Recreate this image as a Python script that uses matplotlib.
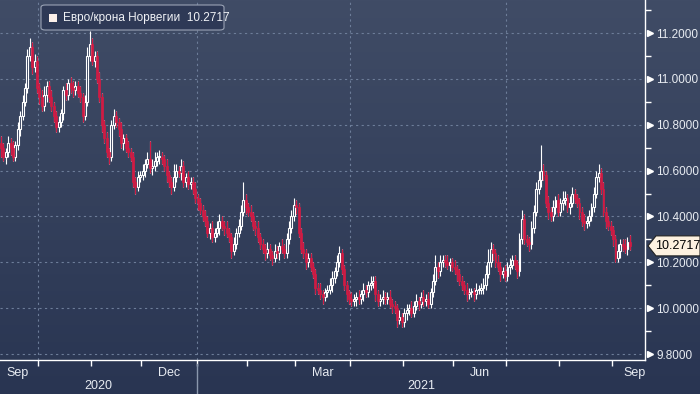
import numpy as np
import pandas as pd
import matplotlib
matplotlib.use("Agg")
import matplotlib.pyplot as plt
import matplotlib.transforms as mtransforms
from matplotlib.patches import FancyBboxPatch, Polygon, Rectangle

plt.rcParams["font.family"] = ["Liberation Sans", "DejaVu Sans"]

# === Data (EUR/NOK daily closes) ===
closes = [
    10.70, 10.66, 10.68, 10.72, 10.70, 10.66, 10.71, 10.78, 10.84, 10.90,
    10.96, 11.10, 11.14, 11.05, 11.08, 10.96, 10.92, 10.88, 10.93, 10.97,
    10.92, 10.88, 10.84, 10.79, 10.81, 10.85, 10.95, 10.93, 10.98, 10.96,
    10.95, 10.97, 10.94, 10.92, 10.84, 10.90, 11.10, 11.15, 11.08, 11.10,
    11.00, 10.92, 10.80, 10.74, 10.68, 10.66, 10.80, 10.84, 10.81, 10.78,
    10.72, 10.74, 10.70, 10.68, 10.66, 10.55, 10.53, 10.57, 10.58, 10.60,
    10.63, 10.65, 10.61, 10.62, 10.64, 10.66, 10.66, 10.65, 10.62, 10.58,
    10.55, 10.53, 10.57, 10.60, 10.59, 10.62, 10.55, 10.57, 10.54, 10.55,
    10.52, 10.48, 10.46, 10.43, 10.40, 10.38, 10.33, 10.35, 10.31, 10.33,
    10.35, 10.38, 10.36, 10.35, 10.33, 10.31, 10.25, 10.28, 10.33, 10.36,
    10.42, 10.47, 10.44, 10.42, 10.40, 10.36, 10.35, 10.31, 10.28, 10.26,
    10.24, 10.26, 10.23, 10.22, 10.25, 10.24, 10.27, 10.26, 10.24, 10.30,
    10.35, 10.40, 10.45, 10.44, 10.33, 10.26, 10.24, 10.20, 10.22, 10.18,
    10.15, 10.09, 10.08, 10.06, 10.05, 10.07, 10.08, 10.10, 10.13, 10.16,
    10.20, 10.24, 10.17, 10.10, 10.06, 10.04, 10.03, 10.04, 10.05, 10.04,
    10.06, 10.08, 10.07, 10.10, 10.11, 10.12, 10.06, 10.03, 10.04, 10.05,
    10.04, 10.05, 10.02, 10.01, 10.00, 9.95, 9.96, 9.94, 9.98, 9.99,
    10.00, 9.98, 10.01, 10.03, 10.02, 10.05, 10.03, 10.04, 10.02, 10.07,
    10.12, 10.18, 10.16, 10.20, 10.21, 10.20, 10.19, 10.20, 10.18, 10.17,
    10.15, 10.12, 10.10, 10.08, 10.06, 10.07, 10.07, 10.06, 10.08, 10.08,
    10.09, 10.10, 10.15, 10.20, 10.26, 10.24, 10.20, 10.18, 10.15, 10.16,
    10.14, 10.18, 10.19, 10.21, 10.19, 10.16, 10.30, 10.39, 10.30, 10.29,
    10.28, 10.35, 10.42, 10.52, 10.56, 10.60, 10.58, 10.46, 10.42, 10.40,
    10.44, 10.47, 10.42, 10.46, 10.47, 10.48, 10.44, 10.46, 10.50, 10.48,
    10.46, 10.42, 10.38, 10.37, 10.38, 10.40, 10.44, 10.50, 10.57, 10.59,
    10.52, 10.42, 10.38, 10.36, 10.34, 10.30, 10.22, 10.25, 10.28, 10.27,
    10.26, 10.29, 10.2717,
]
# upper / lower shadow lengths, in hundredths of a krone
up_wick = [
    3, 2, 2, 3, 2, 3, 2, 3, 2, 3,  2, 3, 4, 2, 3, 2, 2, 3, 4, 2,
    2, 3, 2, 2, 3, 2, 2, 3, 2, 3,  3, 2, 2, 3, 2, 3, 4, 6, 3, 2,
    2, 3, 2, 2, 3, 2, 2, 3, 2, 2,  3, 2, 2, 3, 2, 2, 2, 3, 2, 3,
    2, 3, 8, 3, 4, 2, 3, 2, 2, 3,  2, 2, 6, 3, 2, 3, 2, 2, 3, 2,
    2, 3, 2, 2, 2, 3, 2, 2, 3, 2,  3, 3, 2, 2, 3, 2, 2, 3, 2, 3,
    3, 8, 3, 2, 3, 2, 2, 3, 2, 2,  2, 3, 2, 2, 3, 2, 2, 3, 2, 3,
    3, 3, 3, 2, 2, 2, 3, 2, 2, 2,  2, 2, 2, 3, 2, 2, 2, 3, 3, 2,
    3, 3, 2, 2, 2, 2, 3, 2, 2, 3,  2, 3, 2, 2, 3, 2, 2, 2, 2, 3,
    2, 2, 3, 2, 2, 2, 3, 2, 2, 3,  2, 3, 2, 3, 2, 2, 3, 2, 3, 2,
    3, 5, 2, 3, 2, 2, 3, 2, 2, 3,  2, 2, 2, 2, 3, 2, 2, 2, 3, 2,
    2, 3, 4, 6, 3, 2, 2, 3, 2, 2,  3, 2, 3, 2, 2, 2, 3, 4, 2, 2,
    2, 3, 3, 3, 4, 11, 3, 2, 3, 2, 3, 2, 3, 2, 4, 3, 2, 3, 3, 2,
    2, 2, 2, 3, 2, 3, 2, 3, 3, 4,  2, 3, 2, 2, 2, 2, 2, 3, 2, 2,
    3, 2, 3,
]
dn_wick = [
    4, 2, 3, 2, 3, 2, 2, 2, 3, 2,  2, 2, 2, 3, 2, 2, 3, 2, 2, 3,
    2, 2, 3, 2, 2, 2, 3, 2, 2, 2,  3, 2, 2, 2, 3, 2, 2, 2, 2, 3,
    2, 2, 3, 2, 2, 3, 2, 2, 2, 3,  2, 3, 2, 2, 2, 2, 3, 2, 2, 2,
    3, 2, 2, 3, 2, 2, 3, 2, 2, 3,  2, 3, 2, 2, 2, 3, 2, 2, 2, 2,
    2, 2, 3, 2, 2, 2, 2, 3, 2, 2,  2, 3, 2, 3, 2, 2, 3, 2, 2, 2,
    2, 2, 3, 2, 2, 2, 3, 2, 2, 2,  3, 2, 2, 3, 2, 2, 3, 2, 2, 2,
    2, 2, 2, 3, 2, 2, 2, 3, 2, 2,  2, 3, 2, 2, 3, 2, 2, 2, 3, 2,
    2, 2, 2, 2, 3, 2, 2, 2, 3, 2,  2, 3, 2, 2, 2, 2, 3, 2, 2, 2,
    2, 2, 2, 3, 2, 3, 2, 2, 2, 3,  2, 2, 2, 2, 3, 2, 2, 2, 2, 2,
    2, 2, 3, 2, 2, 2, 2, 3, 2, 2,  3, 2, 2, 2, 3, 2, 2, 3, 2, 2,
    2, 3, 2, 2, 2, 3, 2, 2, 3, 2,  2, 2, 3, 2, 2, 3, 2, 2, 2, 2,
    3, 2, 2, 2, 2, 3, 2, 2, 3, 2,  2, 3, 2, 2, 3, 2, 2, 3, 2, 2,
    2, 3, 2, 3, 2, 2, 2, 2, 2, 2,  2, 2, 3, 2, 2, 3, 2, 2, 3, 2,
    2, 3, 2,
]
first_open = 10.72
start_date = "2020-09-09"
series_name = "Евро/крона Норвегии"
last_label = "10.2717"
yticks = [9.8, 10.0, 10.2, 10.4, 10.6, 10.8, 11.0, 11.2]
month_labels = {(2020, 9): "Sep", (2020, 12): "Dec", (2021, 3): "Mar",
                (2021, 6): "Jun", (2021, 9): "Sep"}

# === Prepare OHLC ===
n = min(len(closes), len(up_wick), len(dn_wick))
c = np.array(closes[:n])
o = np.concatenate([[first_open], c[:-1]])
hi = np.maximum(o, c) + np.array(up_wick[:n]) / 100
lo = np.minimum(o, c) - np.array(dn_wick[:n]) / 100
dates = pd.bdate_range(start_date, periods=n)
idx = np.arange(n)

W, H = 700, 394
fig = plt.figure(figsize=(W / 100, H / 100), dpi=100)

# background gradient
bg = fig.add_axes([0, 0, 1, 1])
bg.axis("off")
top = np.array([64, 76, 102]) / 255
bot = np.array([41, 53, 82]) / 255
t = np.linspace(0, 1, 256)[:, None, None]
grad = top * (1 - t) + bot * t
bg.imshow(np.repeat(grad, 2, axis=1), aspect="auto", extent=[0, 1, 0, 1])

# === Main axes ===
ax = fig.add_axes([0, 34 / H, 645 / W, 360 / H])
ax.patch.set_alpha(0)
ax.set_xlim(-0.42, 268.3)
ax.set_ylim(9.774, 11.344)

grid_col = "#6d7d99"
for y in yticks:
    ax.axhline(y, color=grid_col, lw=0.8, ls=(0, (2, 3)), zorder=0)

# quarter gridlines / month ticks
ext = pd.bdate_range("2020-09-01", "2021-09-30")
off = ext.get_loc(dates[0])
pos = np.arange(len(ext)) - off
month_start = {}
month_end = {}
for p, d in zip(pos, ext):
    key = (d.year, d.month)
    month_start.setdefault(key, p)
    month_end[key] = p
ticks = [month_start[k] - 0.5 for k in month_start if 0 < month_start[k] < n]
quarter = [month_start[k] - 0.5 for k in month_start
           if k[1] in (1, 4, 7, 10) and 0 < month_start[k] < n]
for q in quarter:
    ax.axvline(q, color=grid_col, lw=0.8, ls=(0, (2, 3)), zorder=0)

# === Candles ===
red = "#d11a43"
up = c >= o
body_lo = np.minimum(o, c)
body_h = np.maximum(np.abs(c - o), 0.004)
ax.vlines(idx, lo, hi, color="white", lw=0.8, zorder=2)
ax.vlines(idx[~up], lo[~up], hi[~up], color=red, lw=0.8, zorder=3)
ax.bar(idx[up], body_h[up], bottom=body_lo[up], width=0.8,
       facecolor="#34405c", edgecolor="white", lw=0.8, zorder=3)
ax.bar(idx[~up], body_h[~up], bottom=body_lo[~up], width=0.8,
       facecolor=red, edgecolor=red, lw=0.5, zorder=3)

# === Axes styling ===
for s in ["left", "top"]:
    ax.spines[s].set_visible(False)
for s in ["right", "bottom"]:
    ax.spines[s].set_color("white")
    ax.spines[s].set_linewidth(1)

ax.yaxis.tick_right()
ax.set_yticks(yticks)
ax.set_yticklabels([f"{v:.4f}" for v in yticks])
ax.set_yticks(np.arange(9.9, 11.4, 0.2), minor=True)
ax.tick_params(axis="y", which="major", length=0, pad=8,
               labelcolor="#e8ecf2", labelsize=8.5)
ax.tick_params(axis="y", which="minor", length=4, color="white", width=1)
yb = mtransforms.blended_transform_factory(ax.transAxes, ax.transData)
ax.plot(np.full(len(yticks), 1 + 5 / 645), yticks, ls="none", marker=">",
        ms=5, color="white", transform=yb, clip_on=False)

ax.set_xticks(ticks)
ax.set_xticklabels([])
ax.tick_params(axis="x", length=4, color="white", width=1)

xb = mtransforms.blended_transform_factory(ax.transData, ax.transAxes)
for key, lab in month_labels.items():
    if key in month_start:
        cx = (month_start[key] + month_end[key]) / 2
        cx = min(max(cx, 7), 264)
        ax.text(cx, -13 / 360, lab, transform=xb, ha="center", va="center",
                color="#e8ecf2", fontsize=9, clip_on=False)
jan = month_start[(2021, 1)] - 0.5
ax.text((ax.get_xlim()[0] + jan) / 2, -26 / 360, "2020", transform=xb,
        ha="center", va="center", color="#e8ecf2", fontsize=9)
ax.text((jan + ax.get_xlim()[1]) / 2, -26 / 360, "2021", transform=xb,
        ha="center", va="center", color="#e8ecf2", fontsize=9)
ax.plot([jan, jan], [-0.01, -34 / 360], transform=xb, color="#8a97ad",
        lw=1, clip_on=False)

# === Last value tag ===
fig.canvas.draw()
ty = ax.transData.transform((0, c[-1]))[1]
tag = Polygon([(648, ty), (656, ty + 10), (700, ty + 10), (700, ty - 10),
               (656, ty - 10)], closed=True, fc="#fdf1e0", ec="#222222",
              lw=0.8, transform=mtransforms.IdentityTransform(), zorder=5)
fig.patches.append(tag)
fig.text(655 / W, ty / H, last_label, ha="left", va="center", fontsize=9,
         color="black", zorder=6)

# === Legend box ===
leg = FancyBboxPatch((41 / W, 1 - 30 / H), 183 / W, 25 / H,
                     boxstyle="round,pad=0,rounding_size=0.006",
                     fc="#2e3956", ec="#9aa3b5", lw=0.8,
                     transform=fig.transFigure, zorder=5)
fig.patches.append(leg)
fig.patches.append(Rectangle((49 / W, 1 - 22 / H), 8 / W, 8 / H,
                             fc="#fbf0ea", ec="none",
                             transform=fig.transFigure, zorder=6))
fig.text(63 / W, 1 - 17.5 / H, f"{series_name}  {last_label}", ha="left",
         va="center", fontsize=8.5, color="#f0f2f6", zorder=6)

fig.savefig("out.png", dpi=100)
